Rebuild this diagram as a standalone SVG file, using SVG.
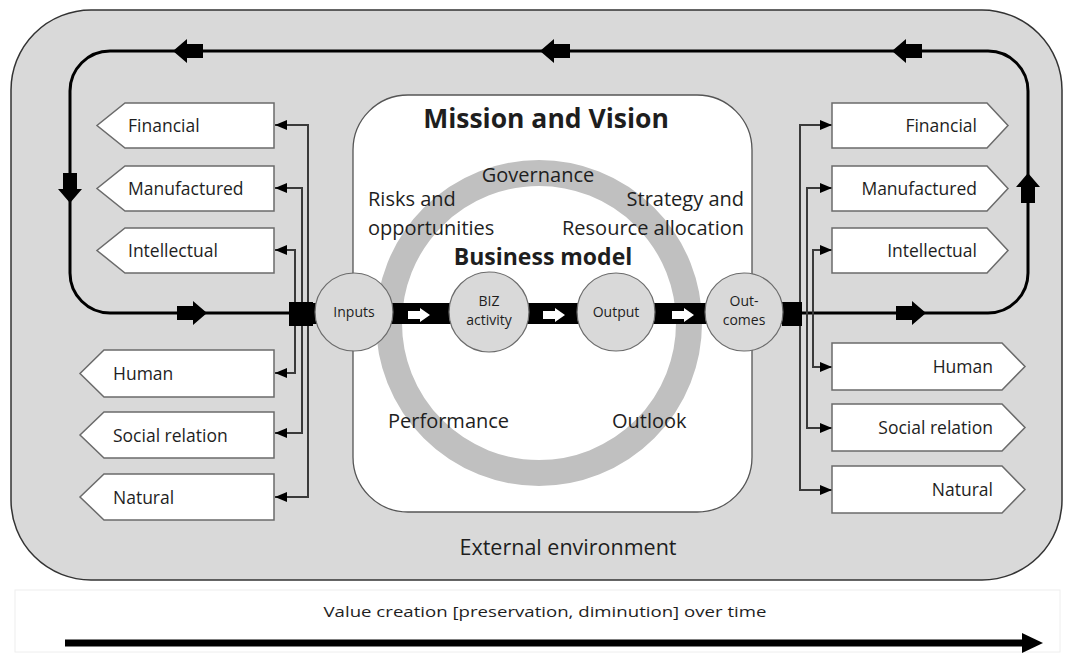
<svg xmlns="http://www.w3.org/2000/svg" width="1071" height="655" viewBox="0 0 1071 655">
<style>
text{font-family:"Open Sans","Liberation Sans",sans-serif;fill:#1e1e1e}
.cap{font-size:17.5px}
.box{fill:#fff;stroke:#6b6b6b;stroke-width:1.5}
.conn{fill:none;stroke:#3a3a3a;stroke-width:2;marker-end:url(#ah)}
.loop{fill:none;stroke:#000;stroke-width:3}
.circ{fill:#d9d9d9;stroke:#6b6b6b;stroke-width:1.2}
.ct{font-size:14px;text-anchor:middle}
.mid{font-size:20px}
</style>
<defs>
<marker id="ah" markerWidth="12" markerHeight="10" refX="12" refY="5" orient="auto" markerUnits="userSpaceOnUse">
<path d="M0,0 L12,5 L0,10 Z" fill="#000"/>
</marker>
<path id="fat" d="M-15,-7 H1 V-12 L15,0 L1,12 V7 H-15 Z" fill="#000"/>
<path id="wa" d="M-11,-4 H1 V-7 L11,0 L1,7 V4 H-11 Z" fill="#fff"/>
</defs>

<g id="environment">
<rect x="11" y="10" width="1051" height="570" rx="80" ry="80" fill="#d9d9d9" stroke="#333" stroke-width="1.5"/>
<text x="568" y="555" font-size="21.5" text-anchor="middle">External environment</text>
</g>

<g id="mission">
<rect x="353" y="95" width="399" height="417" rx="55" ry="55" fill="#fff" stroke="#555" stroke-width="1.3"/>
<circle cx="539" cy="323" r="150" fill="none" stroke="#c0c0c0" stroke-width="26"/>
<text x="546" y="128" font-size="26.5" font-weight="bold" text-anchor="middle">Mission and Vision</text>
<text x="538" y="182" class="mid" text-anchor="middle">Governance</text>
<text x="368" y="206" class="mid">Risks and</text>
<text x="368" y="235" class="mid">opportunities</text>
<text x="744" y="206" class="mid" text-anchor="end">Strategy and</text>
<text x="744" y="235" class="mid" text-anchor="end">Resource allocation</text>
<text x="543" y="265" font-size="23" font-weight="bold" text-anchor="middle">Business model</text>
<text x="388" y="428" class="mid">Performance</text>
<text x="612" y="428" class="mid">Outlook</text>
</g>

<g id="value-creation">
<rect x="15" y="590" width="1045" height="62" fill="#fff" stroke="#eeeeee" stroke-width="1"/>
<text x="545" y="617" font-size="15" text-anchor="middle" textLength="443" lengthAdjust="spacingAndGlyphs">Value creation [preservation, diminution] over time</text>
<path d="M65,643 H1025" stroke="#000" stroke-width="7"/>
<path d="M1022,633 L1043,643 L1022,653 Z" fill="#000"/>
</g>

<g id="connectors">
<path class="loop" d="M290,313 H110 A40,40 0 0 1 70,273 V91 A40,40 0 0 1 110,51 H988 A40,40 0 0 1 1028,91 V273 A40,40 0 0 1 988,313 H800"/>
<use href="#fat" transform="translate(188,51) rotate(180)"/>
<use href="#fat" transform="translate(555,51) rotate(180)"/>
<use href="#fat" transform="translate(907,51) rotate(180)"/>
<use href="#fat" transform="translate(70,188) rotate(90)"/>
<use href="#fat" transform="translate(1028,188) rotate(-90)"/>
<use href="#fat" transform="translate(192,313)"/>
<use href="#fat" transform="translate(911,313)"/>
<rect x="290" y="303" width="510" height="21" fill="#000"/>
<use href="#wa" transform="translate(419,315)"/>
<use href="#wa" transform="translate(554,315)"/>
<use href="#wa" transform="translate(683,315)"/>
<path class="conn" d="M308,313 V125 H275"/>
<path class="conn" d="M302,313 V188 H275"/>
<path class="conn" d="M295,313 V250 H275"/>
<path class="conn" d="M295,313 V373 H275"/>
<path class="conn" d="M302,313 V433 H275"/>
<path class="conn" d="M308,313 V497 H275"/>
<path class="conn" d="M800,313 V125 H832"/>
<path class="conn" d="M807,313 V188 H832"/>
<path class="conn" d="M813,313 V250 H832"/>
<path class="conn" d="M813,313 V367 H832"/>
<path class="conn" d="M807,313 V428 H832"/>
<path class="conn" d="M800,313 V490 H832"/>
<rect x="289" y="302" width="24" height="24" fill="#000"/>
<rect x="782" y="302" width="20" height="24" fill="#000"/>
</g>

<g id="inputs"><circle class="circ" cx="354" cy="312" r="39"/><text class="ct" x="354" y="317">Inputs</text></g>
<g id="biz-activity"><circle class="circ" cx="489" cy="312" r="40"/><text class="ct" x="489" y="306">BIZ</text><text class="ct" x="489" y="325">activity</text></g>
<g id="output"><circle class="circ" cx="616" cy="312" r="39"/><text class="ct" x="616" y="317">Output</text></g>
<g id="outcomes"><circle class="circ" cx="744" cy="312" r="39"/><text class="ct" x="744" y="306" font-size="13">Out-</text><text class="ct" x="744" y="325" font-size="13">comes</text></g>

<g id="in-financial"><path class="box" d="M125,103 H274 V148 H125 L97,125.5 Z"/><text class="cap" x="128" y="132">Financial</text></g>
<g id="in-manufactured"><path class="box" d="M125,166 H274 V211 H125 L97,188.5 Z"/><text class="cap" x="128" y="195">Manufactured</text></g>
<g id="in-intellectual"><path class="box" d="M125,228 H274 V273 H125 L97,250.5 Z"/><text class="cap" x="128" y="257">Intellectual</text></g>
<g id="in-human"><path class="box" d="M104,350 H274 V397 H104 L80,373.5 Z"/><text class="cap" x="113" y="380">Human</text></g>
<g id="in-social"><path class="box" d="M104,412 H274 V458 H104 L80,435 Z"/><text class="cap" x="113" y="442">Social relation</text></g>
<g id="in-natural"><path class="box" d="M104,474 H274 V520 H104 L80,497 Z"/><text class="cap" x="113" y="504">Natural</text></g>

<g id="out-financial"><path class="box" d="M832,103 H987 L1008,125.5 L987,148 H832 Z"/><text class="cap" x="977" y="132" text-anchor="end">Financial</text></g>
<g id="out-manufactured"><path class="box" d="M832,166 H987 L1008,188.5 L987,211 H832 Z"/><text class="cap" x="977" y="195" text-anchor="end">Manufactured</text></g>
<g id="out-intellectual"><path class="box" d="M832,228 H987 L1008,250.5 L987,273 H832 Z"/><text class="cap" x="977" y="257" text-anchor="end">Intellectual</text></g>
<g id="out-human"><path class="box" d="M832,343 H1002 L1025,366.5 L1002,390 H832 Z"/><text class="cap" x="993" y="373" text-anchor="end">Human</text></g>
<g id="out-social"><path class="box" d="M832,404 H1002 L1025,427.5 L1002,451 H832 Z"/><text class="cap" x="993" y="434" text-anchor="end">Social relation</text></g>
<g id="out-natural"><path class="box" d="M832,466 H1002 L1025,489.5 L1002,513 H832 Z"/><text class="cap" x="993" y="496" text-anchor="end">Natural</text></g>
</svg>
